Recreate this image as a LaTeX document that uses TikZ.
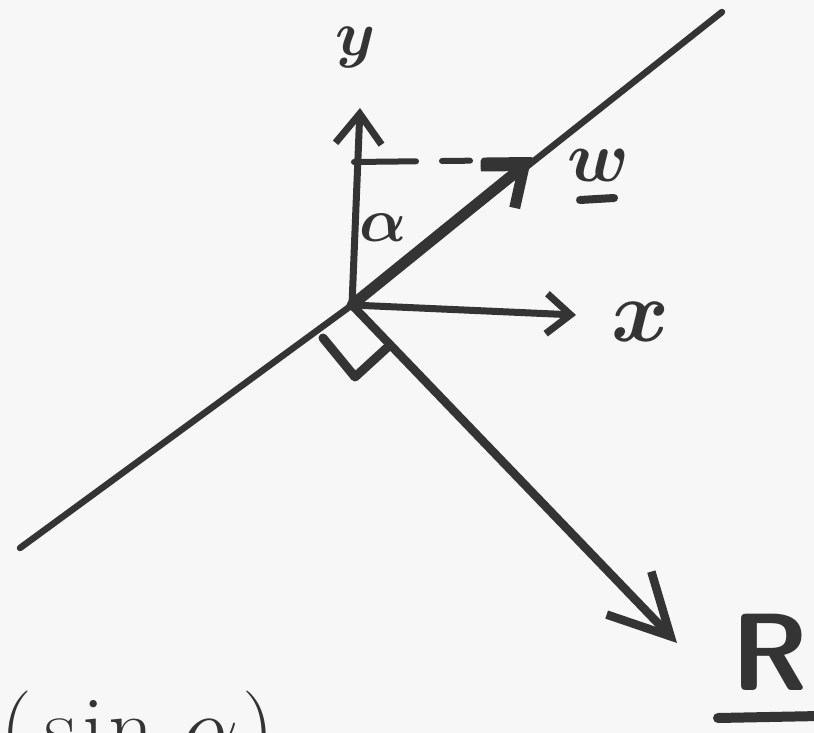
\RequirePackage{fix-cm}
\documentclass[tikz,border=0pt]{standalone}
\usetikzlibrary{arrows.meta}
\definecolor{ink}{RGB}{52,52,52}
\definecolor{paper}{RGB}{247,247,247}
\begin{document}
\begin{tikzpicture}[x=1pt,y=-1pt,line cap=round,line join=round,
  ln/.style={draw=ink,line width=6.5pt},
  lbl/.style={text=ink,inner sep=0pt}]
\useasboundingbox (0,0) rectangle (814,733);
\fill[paper] (0,0) rectangle (814,733);
\clip (0,0) rectangle (814,733);
% points
\coordinate (O) at (352,305);
\coordinate (LA) at (20,548);
\coordinate (LB) at (722,12);
\coordinate (W) at (531,160);
\coordinate (Y) at (360,108);
\coordinate (X) at (576,315);
\coordinate (R) at (677,643);
\coordinate (D) at (354,162);
\coordinate (Q1) at (323,338);
\coordinate (Q2) at (355,377);
\coordinate (Q3) at (390,345);
% long line
\draw[ln] (LA) -- (O) -- (LB);
% axes
\draw[ln,line width=7pt,-{Straight Barb[length=30pt,width=46pt]}] (O) -- (Y);
\draw[ln,line width=7pt,-{Straight Barb[length=24pt,width=40pt]}] (O) -- (X);
% dashed projection
\draw[ln,line width=6pt,dash pattern=on 62pt off 26pt on 28pt off 14pt] (D) -- (W);
% w vector
\draw[ln,line width=11pt,-{Straight Barb[length=34pt,width=54pt]}] (O) -- (W);
% R vector
\draw[ln,line width=8.5pt,-{Straight Barb[length=60pt,width=62pt]}] (O) -- (R);
% right angle mark
\draw[ln,line width=9pt] (Q1) -- (Q2) -- (Q3);
% labels
\node[lbl,font=\fontsize{64}{64}\selectfont\boldmath] (ylab) at (356,48) {$y$};
\node[lbl,font=\fontsize{62}{62}\selectfont\boldmath] (alab) at (383,228) {$\alpha$};
\node[lbl,font=\fontsize{72}{72}\selectfont\boldmath] (wlab) at (598,166) {$w$};
\coordinate (wu1) at (580,200);
\coordinate (wu2) at (614,198);
\draw[ln,line width=8pt] (wu1) -- (wu2);
\node[lbl,font=\fontsize{88}{88}\selectfont\boldmath] (xlab) at (640,322) {$x$};
\node[lbl,font=\fontsize{110}{110}\selectfont\sffamily\bfseries] (rlab) at (770,652) {R};
\coordinate (ru1) at (718,718);
\coordinate (ru2) at (820,716);
\draw[ln,line width=10pt] (ru1) -- (ru2);
\node[lbl,anchor=base west,font=\fontsize{90}{90}\selectfont] (sina) at (0,758) {(\kern12pt s\kern6pt i\kern4pt n $\alpha$\kern4pt)};
\end{tikzpicture}
\end{document}
